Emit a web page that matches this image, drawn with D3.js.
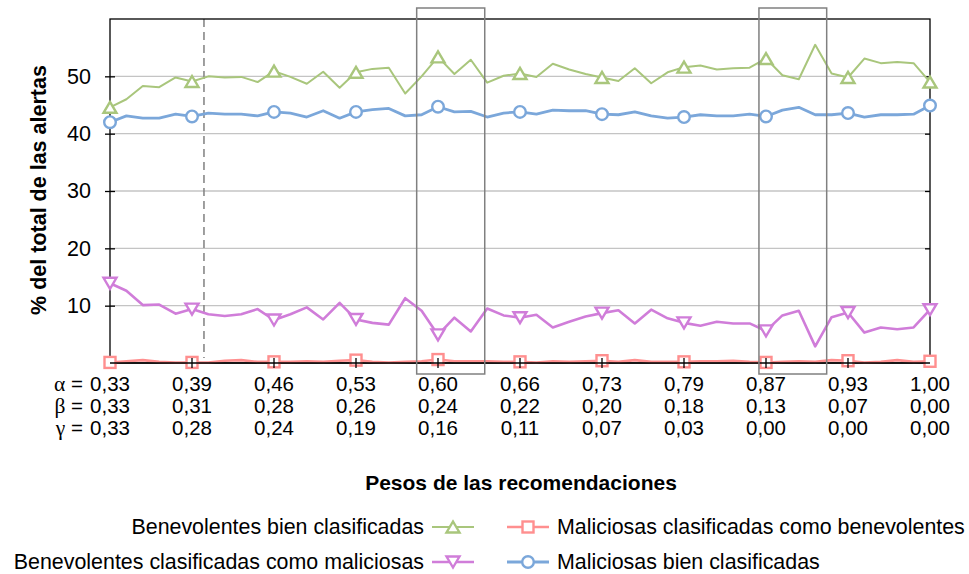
<!DOCTYPE html>
<html><head><meta charset="utf-8">
<script src="https://cdn.jsdelivr.net/npm/d3@7/dist/d3.min.js"></script>
<style>body{margin:0;background:#fff}svg{display:block;font-family:"Liberation Sans",Arial,sans-serif}</style>
</head><body><svg id="c" width="969" height="574"></svg>
<script>
const benevolentesBien = [44.6,46.0,48.3,48.1,49.8,49.1,50.0,49.8,49.9,49.0, 50.9,49.9,48.7,50.8,48.0, 50.7,51.3,51.5,47.0,50.0, 53.4,50.4,52.9,48.9,50.1, 50.5,49.9,52.2,51.2,50.4, 49.8,49.2,51.4,48.8,50.7, 51.6,51.9,51.2,51.4,51.5, 53.1,50.2,49.5,55.5,50.5, 49.8,53.1,52.3,52.5,52.3, 49.0];
const maliciosasBien = [42.0,43.1,42.7,42.7,43.4,43.0,43.6,43.4,43.4,43.1, 43.8,43.6,42.9,44.0,42.7, 43.8,44.2,44.4,43.1,43.3, 44.7,43.8,43.9,42.9,43.6, 43.8,43.4,44.1,44.0,44.0, 43.4,43.3,43.8,43.1,42.7, 42.9,43.3,43.1,43.1,43.4, 43.0,44.1,44.6,43.3,43.3, 43.6,42.9,43.3,43.3,43.4, 44.9];
const benevolentesComoMal = [13.9,12.6,10.1,10.2,8.6,9.4,8.5,8.2,8.5,9.4, 7.5,8.5,9.7,7.6,10.5, 7.6,7.0,6.7,11.3,9.1, 4.9,7.9,5.5,9.5,8.3, 7.9,8.4,6.2,7.2,8.1, 8.7,9.2,6.9,9.3,7.8, 7.0,6.5,7.2,6.9,6.9, 5.6,8.3,9.1,2.9,8.0, 8.8,5.3,6.2,5.9,6.2, 9.3];
const maliciosasComoBen = [0.1,0.3,0.5,0.2,0.1, 0.1,0.1,0.4,0.5,0.2, 0.2,0.2,0.3,0.2,0.4, 0.5,0.2,0.1,0.2,0.3, 0.6,0.3,0.3,0.3,0.2, 0.2,0.1,0.3,0.2,0.3, 0.4,0.2,0.5,0.2,0.2, 0.2,0.3,0.3,0.4,0.2, 0.1,0.2,0.3,0.2,0.5, 0.4,0.1,0.2,0.5,0.2, 0.3];

const alphaLabels = ["0,33","0,39","0,46","0,53","0,60","0,66","0,73","0,79","0,87","0,93","1,00"];
const betaLabels  = ["0,33","0,31","0,28","0,26","0,24","0,22","0,20","0,18","0,13","0,07","0,00"];
const gammaLabels = ["0,33","0,28","0,24","0,19","0,16","0,11","0,07","0,03","0,00","0,00","0,00"];
const yTicks = [10,20,30,40,50];
const highlightBoxes = [[18.7,22.85],[39.57,43.7]];
const dashedAt = 5.73;

const svg = d3.select("#c");
const x = d3.scaleLinear().domain([0,50]).range([110,930]);
const y = d3.scaleLinear().domain([0,60]).range([363,19]);
const ink = "#000";
const FS = 20.5;

svg.append("g").selectAll("line").data(yTicks).join("line")
  .attr("x1",x(0)).attr("x2",x(50)).attr("y1",d=>y(d)).attr("y2",d=>y(d))
  .attr("stroke","#c4c4c4").attr("stroke-width",1.3);

svg.append("line").attr("x1",x(dashedAt)).attr("x2",x(dashedAt)).attr("y1",y(60)).attr("y2",358)
  .attr("stroke","#808080").attr("stroke-width",1.5).attr("stroke-dasharray","8,5");

svg.append("rect").attr("x",x(0)).attr("y",y(60)).attr("width",x(50)-x(0)).attr("height",y(0)-y(60))
  .attr("fill","none").attr("stroke",ink).attr("stroke-width",1.3);

const yAx = svg.append("g").attr("transform",`translate(${x(0)},0)`)
  .call(d3.axisLeft(y).tickValues(yTicks).tickSize(5).tickFormat(d3.format("d")));
yAx.select(".domain").remove();
yAx.selectAll(".tick line").attr("x2",5).attr("x1",-5).attr("stroke",ink).attr("stroke-width",1.3);
yAx.selectAll(".tick text").attr("x",-19).attr("font-size",21.5).attr("fill","#000")
  .attr("font-family","Liberation Sans, Arial, sans-serif");
const yAxR = svg.append("g").attr("transform",`translate(${x(50)},0)`)
  .call(d3.axisRight(y).tickValues(yTicks).tickSize(0).tickFormat(""));
yAxR.select(".domain").remove();
yAxR.selectAll(".tick line").attr("x1",-5).attr("x2",0).attr("stroke",ink).attr("stroke-width",1.3);
const xTickVals = d3.range(5,50,5);
const xAx = svg.append("g").attr("transform",`translate(0,${y(0)})`)
  .call(d3.axisBottom(x).tickValues(xTickVals).tickSize(0).tickFormat(""));
xAx.select(".domain").remove();

const rows = [["\u03b1",alphaLabels,384],["\u03b2",betaLabels,406],["\u03b3",gammaLabels,428]];
rows.forEach(([sym,labs,yy])=>{
  const t = svg.append("text").attr("x",83).attr("y",yy).attr("dy","0.35em").attr("text-anchor","end")
    .attr("font-size",FS);
  t.append("tspan").attr("font-family","Liberation Serif, Times New Roman, serif").attr("font-size",FS+1).text(sym);
  t.append("tspan").text(" =");
  svg.append("g").selectAll("text").data(labs).join("text")
    .attr("x",(d,i)=>x(i*5)).attr("y",yy).attr("dy","0.35em").attr("text-anchor","middle")
    .attr("font-size",FS).text(d=>d);
});

svg.append("text").attr("x",521).attr("y",483).attr("dy","0.35em").attr("text-anchor","middle")
  .attr("font-size",21).attr("font-weight","bold").text("Pesos de las recomendaciones");
svg.append("text").attr("transform","translate(38,190) rotate(-90)").attr("dy","0.35em")
  .attr("text-anchor","middle").attr("font-size",21.5).attr("font-weight","bold").text("% del total de las alertas");

function marker(g, type, color){
  if(type==="up") g.append("path").attr("d","M0,-5.5L6.5,5.5L-6.5,5.5Z");
  else if(type==="down") g.append("path").attr("d","M0,5.5L6.5,-5.5L-6.5,-5.5Z");
  else if(type==="circle") g.append("circle").attr("r",5.8);
  else g.append("rect").attr("x",-5.5).attr("y",-5.5).attr("width",11).attr("height",11);
  g.selectAll("*").attr("fill","#fff").attr("stroke",color).attr("stroke-width",2.4);
}

const series = [
  {name:"Maliciosas clasificadas como benevolentes", data:maliciosasComoBen, color:"#ff8f8f", w:2.6, m:"square"},
  {name:"Benevolentes clasificadas como maliciosas", data:benevolentesComoMal, color:"#d07dd9", w:2.6, m:"down"},
  {name:"Maliciosas bien clasificadas", data:maliciosasBien, color:"#7ba7da", w:2.8, m:"circle"},
  {name:"Benevolentes bien clasificadas", data:benevolentesBien, color:"#a9c67c", w:2, m:"up"}
];
const line = d3.line().x((d,i)=>x(i)).y(d=>y(d));
series.forEach(s=>{
  svg.append("path").datum(s.data).attr("d",line).attr("fill","none")
    .attr("stroke",s.color).attr("stroke-width",s.w).attr("stroke-linejoin","round");
  s.data.forEach((v,i)=>{ if(i%5===0){
    marker(svg.append("g").attr("transform",`translate(${x(i)},${y(v)})`), s.m, s.color);
  }});
});

svg.append("g").selectAll("line").data(xTickVals).join("line")
  .attr("x1",d=>x(d)).attr("x2",d=>x(d)).attr("y1",y(0)-5).attr("y2",y(0)+5)
  .attr("stroke",ink).attr("stroke-width",1.3);
svg.append("line").attr("x1",x(0)).attr("x2",x(50)).attr("y1",y(0)).attr("y2",y(0)).attr("stroke",ink).attr("stroke-width",1.3);

svg.append("g").selectAll("rect").data(highlightBoxes).join("rect")
  .attr("x",d=>x(d[0])).attr("width",d=>x(d[1])-x(d[0])).attr("y",8).attr("height",366)
  .attr("fill","none").attr("stroke","#808080").attr("stroke-width",1.5);

const legend = [
  {s:series[3], lx:432, y:527, side:"left"},
  {s:series[0], lx:507, y:527, side:"right"},
  {s:series[1], lx:432, y:562, side:"left"},
  {s:series[2], lx:507, y:562, side:"right"}
];
legend.forEach(L=>{
  const g = svg.append("g");
  g.append("line").attr("x1",L.lx).attr("x2",L.lx+42).attr("y1",L.y).attr("y2",L.y)
    .attr("stroke",L.s.color).attr("stroke-width",L.s.w);
  marker(g.append("g").attr("transform",`translate(${L.lx+21},${L.y})`), L.s.m, L.s.color);
  g.append("text").attr("x",L.side==="left"?L.lx-8:L.lx+50).attr("y",L.y).attr("dy","0.35em")
    .attr("text-anchor",L.side==="left"?"end":"start").attr("font-size",21.4).text(L.s.name);
});
</script></body></html>
